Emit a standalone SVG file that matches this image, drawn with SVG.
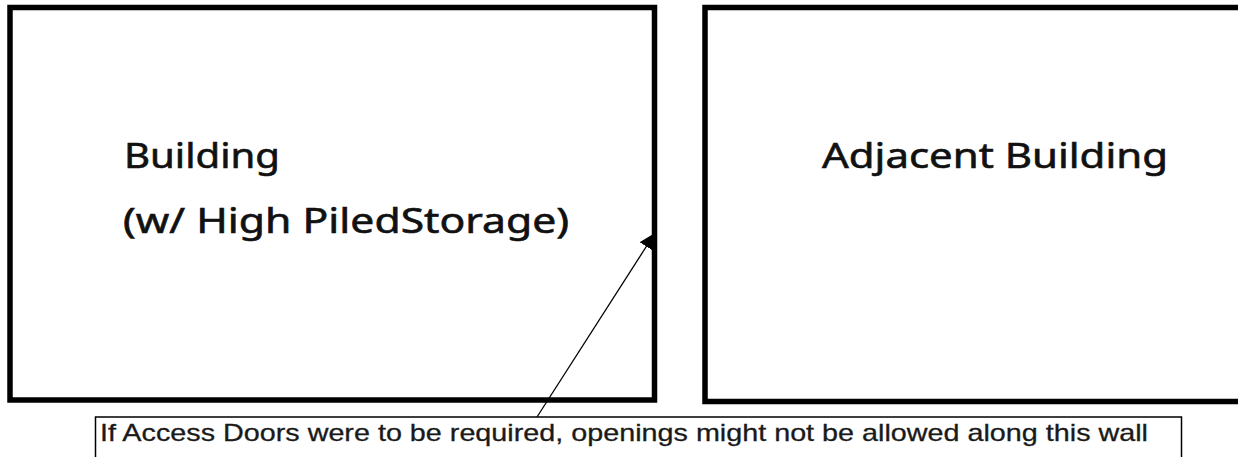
<svg xmlns="http://www.w3.org/2000/svg" width="1238" height="457" viewBox="0 0 1238 457">
<style>
.bldg{fill:none;stroke:#000;stroke-width:5.5}
.big{font-family:"Noto Sans","Open Sans",sans-serif;font-size:34px;fill:#111;stroke:#111;stroke-width:0.6}
.note{font-family:"Liberation Sans",Arial,sans-serif;font-size:24px;fill:#1a1a1a;stroke:#1a1a1a;stroke-width:0.3}
.lead{stroke:#000;stroke-width:1.3;fill:none}
</style>
<defs>
<marker id="ah" viewBox="0 0 10 10" refX="10" refY="5" markerWidth="16" markerHeight="16" markerUnits="userSpaceOnUse" orient="auto">
<path d="M0,0 L10,5 L0,10 z" fill="#000"/>
</marker>
</defs>
<rect width="1238" height="457" fill="#fff"/>
<g id="building">
<rect class="bldg" x="10" y="7.5" width="644.5" height="392.5"/>
<text class="big" x="124" y="168" textLength="156" lengthAdjust="spacingAndGlyphs">Building</text>
<text class="big" x="123" y="233" textLength="446" lengthAdjust="spacingAndGlyphs">(w/ High PiledStorage)</text>
</g>
<g id="adjacent-building">
<rect class="bldg" x="705" y="7.5" width="560" height="394"/>
<text class="big" x="822" y="168" textLength="346" lengthAdjust="spacingAndGlyphs">Adjacent Building</text>
</g>
<g id="note">
<rect x="95.5" y="417" width="1086" height="60" fill="#fff" stroke="#000" stroke-width="1.5"/>
<text class="note" x="100" y="441" textLength="1048" lengthAdjust="spacingAndGlyphs">If Access Doors were to be required, openings might not be allowed along this wall</text>
</g>
<g id="connectors">
<line class="lead" x1="537" y1="417" x2="655" y2="233" marker-end="url(#ah)"/>
</g>
</svg>
